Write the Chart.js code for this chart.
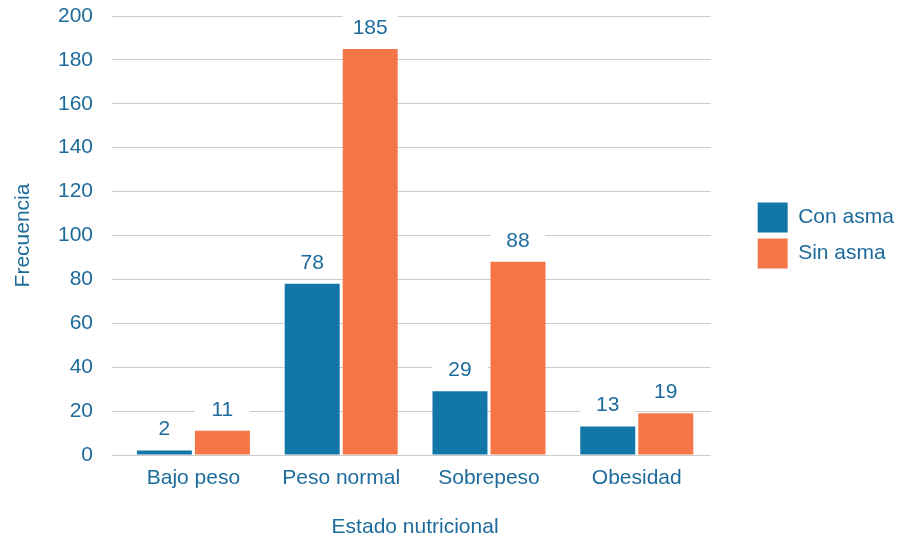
<!DOCTYPE html>
<html>
<head>
<meta charset="utf-8">
<script src="https://cdn.jsdelivr.net/npm/chart.js@4.4.0/dist/chart.umd.min.js"></script>
<style>
html,body{margin:0;padding:0;background:#fff;}
#wrap{width:907px;height:537px;position:relative;}
</style>
</head>
<body>
<div id="wrap"><canvas id="c" width="907" height="537"></canvas></div>
<script>
const categories = ["Bajo peso", "Peso normal", "Sobrepeso", "Obesidad"];
const conAsma = [2, 78, 29, 13];
const sinAsma = [11, 185, 88, 19];
const seriesNames = ["Con asma", "Sin asma"];
const yTicks = [0, 20, 40, 60, 80, 100, 120, 140, 160, 180, 200];

const TEXT = "#1d6b9c";
const BLUE = "#1276a8";
const ORANGE = "#f47649";
const GRID = "#cccccc";
const FONT = "'Liberation Sans', Arial, sans-serif";
const FS = 21;

const labelPlugin = {
  id: "barLabels",
  afterDatasetsDraw(chart) {
    const ctx = chart.ctx;
    ctx.save();
    ctx.font = FS + "px " + FONT;
    ctx.textAlign = "center";
    ctx.textBaseline = "middle";
    chart.data.datasets.forEach((ds, di) => {
      const meta = chart.getDatasetMeta(di);
      meta.data.forEach((bar, i) => {
        const cy = bar.y - 22;
        ctx.fillStyle = "#ffffff";
        ctx.fillRect(bar.x - bar.width / 2, cy - 12, bar.width, 24);
        ctx.fillStyle = TEXT;
        ctx.fillText(String(ds.data[i]), bar.x, cy + 1);
      });
    });
    ctx.restore();
  }
};

new Chart(document.getElementById("c"), {
  type: "bar",
  data: {
    labels: categories,
    datasets: [
      { label: seriesNames[0], data: conAsma, backgroundColor: BLUE, yAxisID: "y" },
      { label: seriesNames[1], data: sinAsma, backgroundColor: ORANGE, yAxisID: "y" }
    ]
  },
  options: {
    responsive: false,
    animation: false,
    devicePixelRatio: 1,
    categoryPercentage: 0.785,
    barPercentage: 0.948,
    layout: { padding: { top: 16, left: 0, right: 5, bottom: 0 } },
    plugins: {
      legend: {
        position: "right",
        fullSize: false,
        labels: {
          boxWidth: 30, boxHeight: 30, padding: 6,
          color: TEXT, font: { size: FS, family: FONT }
        }
      },
      tooltip: { enabled: false }
    },
    scales: {
      x: {
        grid: { display: false },
        border: { display: false },
        ticks: { color: TEXT, font: { size: FS, family: FONT }, padding: 3 },
        title: { display: true, text: "Estado nutricional", color: TEXT, font: { size: FS, family: FONT }, padding: { top: 0, bottom: -3 } },
        afterFit(s) { s.height = 82; }
      },
      y: {
        min: 0, max: 200,
        afterBuildTicks(s) { s.ticks = yTicks.map(v => ({ value: v })); },
        grid: { color: GRID, lineWidth: 1, drawTicks: true, tickLength: 7.5, tickColor: GRID },
        border: { display: false },
        ticks: { color: TEXT, font: { size: FS, family: FONT }, padding: 19 },
        title: { display: true, text: "Frecuencia", color: TEXT, font: { size: FS, family: FONT }, padding: { top: 11, bottom: 0 } },
        afterFit(s) { s.width = 119.5; s.paddingTop = 0; s.paddingBottom = 0; }
      },
      y2: {
        position: "right",
        display: true,
        grid: { display: false },
        border: { display: false },
        ticks: { display: false },
        afterFit(s) { s.width = 41; s.paddingTop = 0; s.paddingBottom = 0; }
      }
    }
  },
  plugins: [labelPlugin]
});
</script>
</body>
</html>
